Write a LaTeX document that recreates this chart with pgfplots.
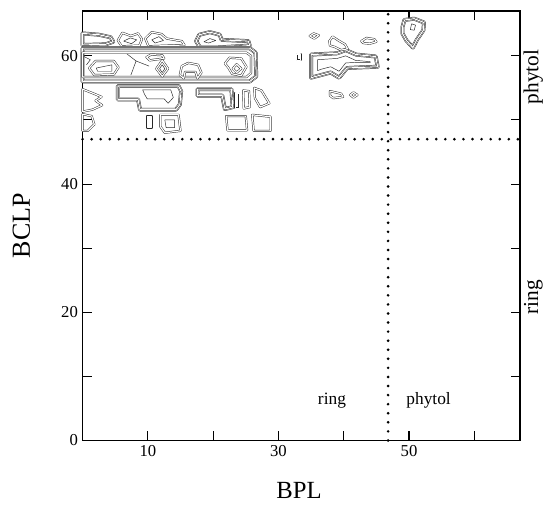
\documentclass[border=0pt]{standalone}
\usepackage{pgfplots}
\pgfplotsset{compat=1.18}
\usepackage{fontspec}
\setmainfont{Liberation Serif}

\begin{document}
\begin{tikzpicture}
% picture frame: axis box is 328pt x 322pt with its lower left corner at the origin
\useasboundingbox (-61.9pt,-48.75pt) rectangle (346.75pt,330.25pt);
\begin{axis}[
    name=ax,
    at={(0,0)}, anchor=south west,
    scale only axis,
    width=328pt, height=322pt,
    xmin=0, xmax=67, ymin=0, ymax=67,
    xtick={10,20,30,40,50,60},
    xticklabels={10,,30,,50,},
    ytick={0,10,20,30,40,50,60},
    yticklabels={0,,20,,40,,60},
    tick align=inside,
    major tick length=7pt,
    tick pos=both,
    xticklabel pos=lower, yticklabel pos=left,
    /pgf/number format/assume math mode=true,
    ticklabel style={font=\fontsize{12.5}{15}\selectfont},
    xlabel={BPL}, ylabel={BCLP},
    every axis x label/.style={at={(axis description cs:0.495,-0.116)}, anchor=center, font=\fontsize{18.5}{21}\selectfont},
    every axis y label/.style={at={(axis description cs:-0.14,0.5)}, rotate=90, anchor=center, font=\fontsize{19.5}{21}\selectfont},
    axis line style={line width=0.9pt},
    every tick/.style={black, line width=0.8pt},
    clip=false,
    cont/.style={black!85, line width=0.35pt, double=white, double distance=0.9pt, line join=round, mark=none},
    cont4/.style={black!85, line width=2.9pt, line join=round, mark=none,
        postaction={draw=white, line width=2.2pt},
        postaction={draw=black!85, line width=1.5pt},
        postaction={draw=white, line width=0.8pt}},
    single/.style={black!85, line width=0.35pt, line join=round, mark=none},
]
    % dotted separators
    \addplot[line width=2.2pt, dash pattern=on 0pt off 6.8pt, line cap=round] coordinates {(0,47) (67,47)};
    \addplot[line width=2.2pt, dash pattern=on 0pt off 6.8pt, line cap=round] coordinates {(46.8,0) (46.8,67)};

    % contours, ring-ring block (upper left)
    \addplot[cont4] coordinates {(0,61.7) (3.5,61.8) (4.7,62.2) (4.3,62.9) (2.5,63.3) (0,63.5)} -- cycle;
    \addplot[cont] coordinates {(5.4,62.4) (6.1,63.6) (7.4,63.1) (8.5,63.5) (9.1,62.6) (8.7,61.6) (6.0,61.5)} -- cycle;
    \addplot[single] coordinates {(6.3,62.3) (7.3,62.8) (8.3,62.5) (7.5,61.9)} -- cycle;
    \addplot[cont] coordinates {(9.6,62.7) (10.6,63.7) (12.1,63.4) (12.9,62.7) (15.2,62.3) (15.6,61.7) (10.1,61.5)} -- cycle;
    \addplot[single] coordinates {(10.6,62.5) (11.7,63.0) (12.4,62.4) (11.1,62.0)} -- cycle;
    \addplot[cont4] coordinates {(17.4,62.3) (17.9,63.3) (19.5,63.7) (21.0,63.3) (21.3,62.5) (25.4,62.3) (25.6,61.6) (20.5,61.3) (18.0,61.3)} -- cycle;
    \addplot[single] coordinates {(18.6,62.2) (19.5,62.7) (20.4,62.4) (19.3,62.0)} -- cycle;

    \addplot[cont4] coordinates {(0,61.2) (25.6,61.2) (26.5,60.5) (26.6,56.8) (25.6,56.0) (0,56.0)} -- cycle;
    \addplot[cont] coordinates {(0,60.5) (25.1,60.5) (25.8,60.0) (25.8,57.3) (25.1,56.7) (0,56.7)} -- cycle;
    \addplot[single] coordinates {(6.8,60.3) (8.2,59.2) (7.4,57.0)};
    \addplot[single] coordinates {(8.2,59.2) (10.2,58.4)};
    \addplot[single] coordinates {(0.2,59.9) (1.2,59.4) (0.6,58.6)};

    \addplot[cont] coordinates {(1.0,58.1) (2.0,59.2) (4.8,59.2) (5.5,58.2) (4.8,57.1) (1.8,57.0)} -- cycle;
    \addplot[single] coordinates {(2.1,58.1) (4.5,58.6) (4.5,57.6) (2.3,57.6)} -- cycle;
    \addplot[cont] coordinates {(9.8,59.8) (10.5,60.2) (12.2,60.1) (12.5,59.6) (10.3,59.3)} -- cycle;
    \addplot[cont] coordinates {(11.3,58.0) (12.2,59.3) (13.1,58.0) (12.2,56.8)} -- cycle;
    \addplot[single] coordinates {(11.8,58.0) (12.2,58.6) (12.6,58.0) (12.2,57.4)} -- cycle;
    \addplot[cont] coordinates {(14.9,57.0) (15.2,58.4) (16.2,58.9) (17.7,58.6) (18.2,57.4) (17.6,56.5) (17.3,57.5) (15.7,57.5) (15.5,56.5)} -- cycle;
    \addplot[cont] coordinates {(21.8,58.8) (22.5,59.7) (24.3,59.6) (25.1,58.3) (24.3,56.9) (22.9,57.2) (22.3,58.2)} -- cycle;
    \addplot[cont] coordinates {(23.0,58.0) (23.6,58.7) (24.3,58.0) (23.6,57.4)} -- cycle;

    \addplot[cont4] coordinates {(5.4,55.3) (14.7,55.3) (15.1,54.5) (14.9,52.4) (14.3,51.6) (8.8,51.6) (8.5,53.2) (5.4,53.2)} -- cycle;
    \addplot[single] coordinates {(9.2,54.7) (13.5,54.7) (13.9,53.5) (13.1,52.6) (12.5,53.3) (9.9,53.3) (9.5,54.0)} -- cycle;
    \addplot[cont4] coordinates {(17.6,54.8) (22.8,54.8) (23.0,52.0) (21.8,51.7) (21.4,53.8) (17.6,53.8)} -- cycle;
    \addplot[cont] coordinates {(23.4,54.2) (24.0,54.2) (24.0,51.8) (23.4,51.8)} -- cycle;
    \addplot[cont] coordinates {(24.6,54.6) (25.5,54.5) (25.6,52.0) (24.7,51.8)} -- cycle;
    \addplot[cont] coordinates {(26.3,55.0) (27.4,54.6) (28.6,52.6) (27.2,52.0) (26.4,53.4)} -- cycle;
    \addplot[cont] coordinates {(0,54.8) (1.5,54.2) (2.9,53.6) (2.0,53.0) (3.0,52.3) (1.5,51.6) (0,51.3)} -- cycle;

    \addplot[cont] coordinates {(0,50.9) (1.4,50.6) (1.8,49.3) (0.8,48.3) (0,48.3)} -- cycle;
    \addplot[cont] coordinates {(9.9,50.6) (10.6,50.6) (10.6,48.8) (9.9,48.8)} -- cycle;
    \addplot[cont] coordinates {(11.9,50.8) (14.7,50.8) (15.0,48.3) (12.6,48.0) (11.9,49.0)} -- cycle;
    \addplot[single] coordinates {(12.6,50.0) (14.1,50.0) (14.1,48.8) (12.8,48.8)} -- cycle;
    \addplot[cont] coordinates {(22.0,50.6) (25.0,50.6) (25.2,48.4) (22.2,48.4)} -- cycle;
    \addplot[cont] coordinates {(26.0,50.8) (28.8,50.5) (28.8,48.3) (26.2,48.3)} -- cycle;

    % middle group
    \addplot[cont4] coordinates {(35,60.2) (39,60.4) (40.3,60.9) (41.9,60.2) (44.9,59.9) (45.2,58.3) (42.5,58.2) (40.5,58.1) (39.3,56.6) (38,57.4) (36.5,57) (35,56.6)} -- cycle;
    \addplot[single] coordinates {(36.0,59.4) (39,59.6) (40.3,60.0) (41.8,59.3) (44.0,59.1) (44.1,59.0) (42.4,59.0) (40.3,58.9) (39.3,57.6) (38,58.3) (36.5,57.9) (36.0,57.7)} -- cycle;
    \addplot[cont] coordinates {(34.8,63.1) (35.4,63.5) (36.2,63.2) (35.5,62.7)} -- cycle;
    \addplot[cont] coordinates {(37.8,62.3) (38.3,63.0) (39.2,62.4) (40.2,61.8) (40.6,61.1) (39.6,60.9) (38.6,61.4) (37.9,61.6)} -- cycle;
    \addplot[cont] coordinates {(42.7,62.3) (43.5,62.8) (44.7,62.6) (45.0,62.2) (44.0,61.9) (43.0,62.0)} -- cycle;
    \addplot[cont] coordinates {(37.9,54.5) (39.6,54.1) (39.9,53.6) (38.4,53.4) (37.9,53.8)} -- cycle;
    \addplot[cont] coordinates {(41.0,53.9) (41.5,54.3) (42.1,53.9) (41.5,53.5)} -- cycle;
    \addplot[cont] coordinates {(32.8,60.3) (33.4,60.3) (33.4,59.3) (32.8,59.3)} -- cycle;

    % phytol-phytol peak
    \addplot[cont4] coordinates {(49.0,64.5) (49.3,65.6) (50.8,65.8) (52.3,65.2) (52.2,64.0) (51.2,62.5) (50.6,61.3) (49.6,62.4) (49.0,63.5)} -- cycle;
    \addplot[single] coordinates {(50.2,64.1) (50.4,65.0) (51.0,64.8) (50.8,64.0)} -- cycle;

    % region labels
    \node[font=\fontsize{13}{15}\selectfont, anchor=base] at (axis cs:38.2,5.6) {ring};
    \node[font=\fontsize{13}{15}\selectfont, anchor=base] at (axis cs:53,5.6) {phytol};
    \node[font=\fontsize{16}{18}\selectfont, rotate=90, anchor=center] at ([xshift=10pt]axis cs:67,56.7) {phytol};
    \node[font=\fontsize{16}{18}\selectfont, rotate=90, anchor=center] at ([xshift=10pt]axis cs:67,22.3) {ring};
\end{axis}
\end{tikzpicture}
\end{document}
